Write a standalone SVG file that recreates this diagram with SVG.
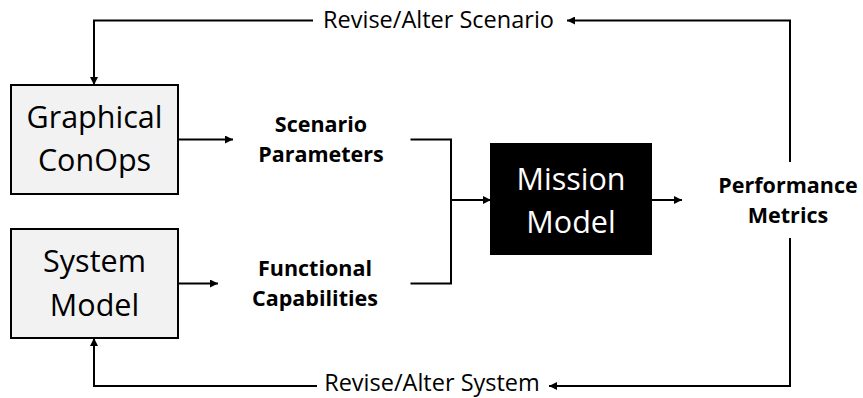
<svg xmlns="http://www.w3.org/2000/svg" width="863" height="398" viewBox="0 0 863 398">
<style>
.box{fill:#f2f2f2;stroke:#000;stroke-width:2}
.dark{fill:#000;stroke:#000;stroke-width:2}
.big{font-family:"Open Sans","Liberation Sans",sans-serif;font-size:30.5px;text-anchor:middle;fill:#000}
.bigw{font-family:"Open Sans","Liberation Sans",sans-serif;font-size:30.5px;text-anchor:middle;fill:#fff}
.lbl{font-family:"Open Sans","Liberation Sans",sans-serif;font-size:21.5px;font-weight:bold;text-anchor:middle;fill:#000}
.loop{font-family:"Open Sans","Liberation Sans",sans-serif;font-size:23.5px;text-anchor:middle;fill:#000}
.ln{fill:none;stroke:#000;stroke-width:2}
</style>
<defs>
<marker id="ah" viewBox="0 0 10 10" refX="10" refY="5" markerWidth="9" markerHeight="8" markerUnits="userSpaceOnUse" orient="auto">
<path d="M0,0 L10,5 L0,10 z" fill="#000"/>
</marker>
</defs>
<g id="graphical-conops">
<rect class="box" x="11" y="85" width="167" height="109"/>
<text class="big" x="94.5" y="128">Graphical</text>
<text class="big" x="94.5" y="170.5">ConOps</text>
</g>
<g id="system-model">
<rect class="box" x="11" y="229" width="167" height="109"/>
<text class="big" x="94.5" y="272">System</text>
<text class="big" x="94.5" y="315.5">Model</text>
</g>
<g id="mission-model">
<rect class="dark" x="491" y="144" width="160" height="110"/>
<text class="bigw" x="571" y="190">Mission</text>
<text class="bigw" x="571" y="233">Model</text>
</g>
<g id="scenario-parameters">
<text class="lbl" x="321" y="131.5">Scenario</text>
<text class="lbl" x="321" y="161.5">Parameters</text>
</g>
<g id="functional-capabilities">
<text class="lbl" x="315" y="276">Functional</text>
<text class="lbl" x="315" y="306">Capabilities</text>
</g>
<g id="performance-metrics">
<text class="lbl" x="788" y="193">Performance</text>
<text class="lbl" x="788" y="223">Metrics</text>
</g>
<g id="loop-labels">
<text class="loop" x="438.5" y="28">Revise/Alter Scenario</text>
<text class="loop" x="432" y="391">Revise/Alter System</text>
</g>
<g id="connectors">
<line class="ln" x1="178" y1="139.5" x2="233" y2="139.5" marker-end="url(#ah)"/>
<line class="ln" x1="178" y1="283.5" x2="218" y2="283.5" marker-end="url(#ah)"/>
<polyline class="ln" points="410.5,139.5 451,139.5 451,283.5 410.5,283.5"/>
<line class="ln" x1="451" y1="200" x2="491" y2="200" marker-end="url(#ah)"/>
<line class="ln" x1="651" y1="200" x2="682" y2="200" marker-end="url(#ah)"/>
<polyline class="ln" points="790,162 790,20.5 567,20.5" marker-end="url(#ah)"/>
<polyline class="ln" points="313,20.5 94,20.5 94,85" marker-end="url(#ah)"/>
<polyline class="ln" points="790,238 790,386 549,386" marker-end="url(#ah)"/>
<polyline class="ln" points="317,386 94,386 94,338" marker-end="url(#ah)"/>
</g>
</svg>
